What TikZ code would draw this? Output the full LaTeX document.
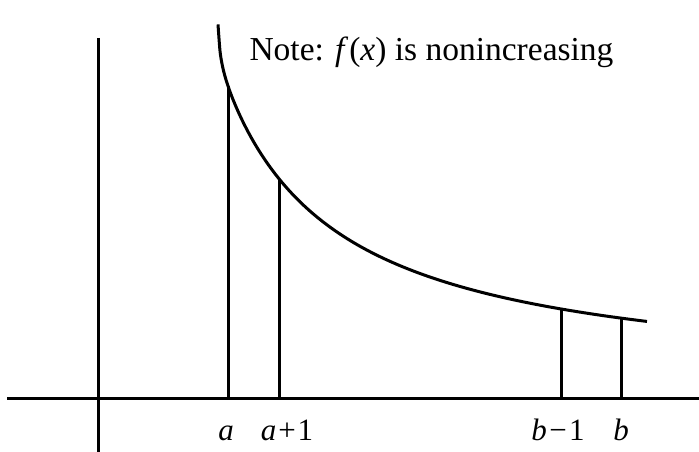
\documentclass[tikz,border=0pt]{standalone}
\usepackage{fontspec}
\setmainfont{Liberation Serif}
% altura da curva (em px) acima do eixo
\newcommand{\fcurva}[1]{398-(11.1+3515/((#1-110)/10)+(24.33/(#1-214))^2)}
\begin{document}
\begin{tikzpicture}[x=1pt, y=-1pt, line width=3pt,
  rotulo/.style={anchor=base, inner sep=0pt, font=\fontsize{31}{36}\selectfont}]
\useasboundingbox (0,0) rectangle (699,452);
% Eixos
\coordinate (xesq) at (7,398);
\coordinate (xdir) at (699,398);
\coordinate (ytopo) at (98,38);
\coordinate (ybase) at (98,452);
\draw (xesq) -- (xdir);
\draw (ytopo) -- (ybase);
% Curva f(x)
\draw plot[domain=218:647, samples=220, variable=\t, smooth] (\t, {\fcurva{\t}});
\coordinate (fa) at (228,{\fcurva{228}});
\coordinate (fa1) at (279,{\fcurva{279}});
\coordinate (fb1) at (561,{\fcurva{561}});
\coordinate (fb) at (621,{\fcurva{621}});
% Linhas verticais
\coordinate (pa) at (228,398);
\coordinate (pa1) at (279,398);
\coordinate (pb1) at (561,398);
\coordinate (pb) at (621,398);
\draw (pa) -- (fa);
\draw (pa1) -- (fa1);
\draw (pb1) -- (fb1);
\draw (pb) -- (fb);
% Rotulos
\node[rotulo] (la) at (226,440) {\textit{a}};
\node[rotulo] (la1) at (287,440) {\textit{a}\kern2pt+\kern2pt1};
\node[rotulo] (lb1) at (558,440) {\textit{b}\kern2.5pt−\kern2.5pt1};
\node[rotulo] (lb) at (621,440) {\textit{b}};
\node[rotulo, anchor=base west, font=\fontsize{33.5}{38}\selectfont] (nota) at (248,61) {Note: \textit{f}\kern1pt(\textit{x}) is nonincreasing};
\end{tikzpicture}
\end{document}
